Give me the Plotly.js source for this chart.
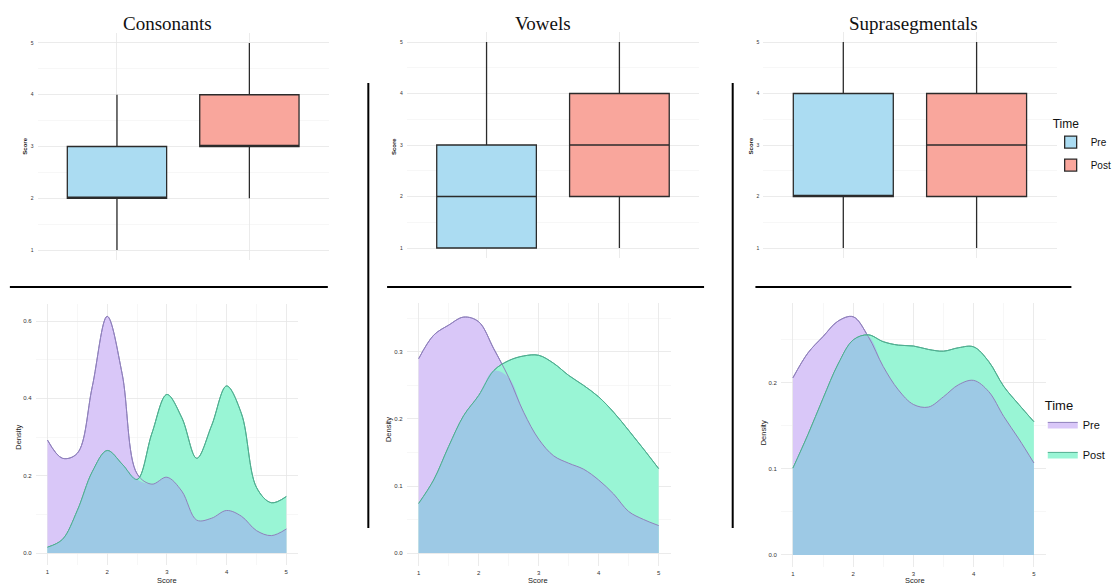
<!DOCTYPE html>
<html>
<head>
<meta charset="utf-8">
<script src="https://cdn.plot.ly/plotly-3.0.1.min.js"></script>
<style>html,body{margin:0;padding:0;background:#fff;}#chart{width:1117px;height:586px;}</style>
</head>
<body>
<div id="chart"></div>
<script>
// ---------- DATA ----------
const panelTitles = ['Consonants', 'Vowels', 'Suprasegmentals'];
const timeGroups = ['Pre', 'Post'];

// Box-plot statistics (Score) per skill: [Pre, Post]
const consLowerFence = [1, 2];
const consQ1 = [2, 3];
const consMedian = [2, 3];
const consQ3 = [3, 4];
const consUpperFence = [4, 5];

const vowLowerFence = [1, 1];
const vowQ1 = [1, 2];
const vowMedian = [2, 3];
const vowQ3 = [3, 4];
const vowUpperFence = [5, 5];

const supLowerFence = [1, 1];
const supQ1 = [2, 2];
const supMedian = [2, 3];
const supQ3 = [4, 4];
const supUpperFence = [5, 5];

// Density curves (Score grid)
const scoreGrid = [1, 1.25, 1.5, 1.75, 2, 2.25, 2.5, 2.75, 3, 3.25, 3.5, 3.75, 4, 4.25, 4.5, 4.75, 5];
const consPreDensity  = [0.292, 0.245, 0.258, 0.43, 0.612, 0.464, 0.205, 0.178, 0.196, 0.16, 0.085, 0.09, 0.11, 0.095, 0.058, 0.045, 0.062];
const consPostDensity = [0.015, 0.035, 0.11, 0.21, 0.265, 0.23, 0.19, 0.31, 0.41, 0.35, 0.245, 0.33, 0.432, 0.36, 0.17, 0.13, 0.146];
const vowPreDensity   = [0.29, 0.325, 0.34, 0.352, 0.345, 0.305, 0.262, 0.21, 0.17, 0.145, 0.134, 0.125, 0.109, 0.088, 0.062, 0.05, 0.041];
const vowPostDensity  = [0.074, 0.109, 0.159, 0.205, 0.235, 0.272, 0.287, 0.294, 0.295, 0.283, 0.265, 0.25, 0.233, 0.21, 0.183, 0.155, 0.126];
const supPreDensity   = [0.206, 0.235, 0.254, 0.272, 0.277, 0.254, 0.219, 0.192, 0.175, 0.172, 0.184, 0.198, 0.203, 0.19, 0.161, 0.135, 0.107];
const supPostDensity  = [0.101, 0.14, 0.182, 0.222, 0.25, 0.256, 0.248, 0.244, 0.243, 0.239, 0.237, 0.241, 0.242, 0.225, 0.196, 0.175, 0.155];

// ---------- STYLE ----------
const W = 1117, H = 586;
const px = v => v / W;
const py = v => 1 - v / H;

const boxFill = ['#ABDCF2', '#F9A69C'];
const preFill = '#D9C7F8', postFill = '#99F5D5', overlapFill = '#9DC9E5';
const preLine = '#8F80BC', postLine = '#4FAE90';
const gridC = '#e6e6e6', minorC = '#f2f2f2';
const sans = 'Liberation Sans, Arial, sans-serif';

const boxSets = [
  [consLowerFence, consQ1, consMedian, consQ3, consUpperFence],
  [vowLowerFence, vowQ1, vowMedian, vowQ3, vowUpperFence],
  [supLowerFence, supQ1, supMedian, supQ3, supUpperFence]
];
const densSets = [
  [consPreDensity, consPostDensity],
  [vowPreDensity, vowPostDensity],
  [supPreDensity, supPostDensity]
];

const traces = [];
boxSets.forEach((s, p) => {
  const ax = p === 0 ? '' : String(p + 1);
  timeGroups.forEach((g, i) => {
    traces.push({
      type: 'box', name: g, x: [g],
      lowerfence: [s[0][i]], q1: [s[1][i]], median: [s[2][i]], q3: [s[3][i]], upperfence: [s[4][i]],
      width: 0.75, whiskerwidth: 0, fillcolor: boxFill[i], line: {color: '#2b2b2b', width: 1.3},
      xaxis: 'x' + ax, yaxis: 'y' + ax, legend: 'legend', legendgroup: 'b' + g,
      showlegend: p === 2, hoverinfo: 'skip'
    });
  });
});

densSets.forEach((s, p) => {
  const n = p + 4;
  const xa = 'x' + n, ya = 'y' + n;
  const pre = s[0], post = s[1];
  const overlap = pre.map((v, i) => Math.min(v, post[i]));
  const base = {x: scoreGrid, type: 'scatter', mode: 'lines', xaxis: xa, yaxis: ya, hoverinfo: 'skip', legend: 'legend2'};
  traces.push(Object.assign({}, base, {y: pre, name: 'Pre', legendgroup: 'dPre', fill: 'tozeroy', fillcolor: preFill,
    line: {color: preLine, width: 1, shape: 'spline', smoothing: 1}, showlegend: p === 2}));
  traces.push(Object.assign({}, base, {y: post, name: 'Post', legendgroup: 'dPost', fill: 'tozeroy', fillcolor: postFill,
    line: {color: postLine, width: 1, shape: 'spline', smoothing: 1}, showlegend: p === 2}));
  traces.push(Object.assign({}, base, {y: overlap, name: 'overlap', fill: 'tozeroy', fillcolor: overlapFill,
    line: {color: 'rgba(0,0,0,0)', width: 0, shape: 'spline', smoothing: 1}, showlegend: false}));
  traces.push(Object.assign({}, base, {y: pre, name: 'Pre', line: {color: preLine, width: 1, shape: 'spline', smoothing: 1}, showlegend: false}));
  traces.push(Object.assign({}, base, {y: post, name: 'Post', line: {color: postLine, width: 1, shape: 'spline', smoothing: 1}, showlegend: false}));
});

function boxX(l, r, anchor) {
  return {domain: [px(l), px(r)], anchor: anchor, type: 'category', categoryorder: 'array', categoryarray: timeGroups,
    range: [-0.6, 1.6], showticklabels: false, ticks: '', showgrid: true, gridcolor: gridC, gridwidth: 0.8,
    zeroline: false, showline: false, fixedrange: true};
}
function boxY(b, t, anchor) {
  return {domain: [py(b), py(t)], anchor: anchor, range: [0.8, 5.2], dtick: 1, tick0: 1, ticks: '',
    tickfont: {family: sans, size: 5, color: '#333'}, showgrid: true, gridcolor: gridC, gridwidth: 0.8,
    minor: {dtick: 0.5, tick0: 0.5, showgrid: true, gridcolor: minorC, gridwidth: 0.6},
    zeroline: false, showline: false, ticklabelstandoff: 3};
}
function densX(l, r, anchor) {
  return {domain: [px(l), px(r)], anchor: anchor, range: [0.8, 5.2], dtick: 1, tick0: 1, ticks: '',
    tickfont: {family: sans, size: 6, color: '#333'}, showgrid: true, gridcolor: gridC, gridwidth: 0.8,
    minor: {dtick: 0.5, tick0: 0.5, showgrid: true, gridcolor: minorC, gridwidth: 0.6},
    zeroline: false, showline: false, ticklabelstandoff: 2};
}
function densY(b, t, anchor, range, dt) {
  return {domain: [py(b), py(t)], anchor: anchor, range: range, dtick: dt, tick0: 0, tickformat: '.1f', ticks: '',
    tickfont: {family: sans, size: 6, color: '#333'}, showgrid: true, gridcolor: gridC, gridwidth: 0.8,
    minor: {dtick: dt / 2, tick0: 0, showgrid: true, gridcolor: minorC, gridwidth: 0.6},
    zeroline: false, showline: false, ticklabelstandoff: 3};
}

const ann = [];
function addText(text, x, y, size, opts) {
  ann.push(Object.assign({text: text, x: px(x), y: py(y), xref: 'paper', yref: 'paper', showarrow: false,
    xanchor: 'center', yanchor: 'middle', font: {family: sans, size: size, color: '#222'}}, opts || {}));
}
const titleX = [170, 550, 925];
panelTitles.forEach((t, i) => addText(t, titleX[i], 23, 19,
  {font: {family: 'Liberation Serif, Times New Roman, serif', size: 19, color: '#111'}}));
[25, 399, 761].forEach(x => addText('<b>Score</b>', x, 146, 6, {textangle: -90}));
[[18, 437], [393, 430], [773, 433]].forEach(d => addText('Density', d[0], d[1], 7.5, {textangle: -90}));
[169, 545, 927].forEach(x => addText('Score', x, 580, 7.5));

const shp = [];
[[10, 332], [392, 713], [765, 1085]].forEach(s => shp.push({type: 'line', xref: 'paper', yref: 'paper',
  x0: px(s[0]), x1: px(s[1]), y0: py(287), y1: py(287), line: {color: '#000', width: 2}}));
[373, 742].forEach(x => shp.push({type: 'line', xref: 'paper', yref: 'paper',
  x0: px(x), x1: px(x), y0: py(83), y1: py(528), line: {color: '#000', width: 2}}));

const layout = {
  width: W, height: H, margin: {l: 0, r: 0, t: 0, b: 0}, paper_bgcolor: '#fff', plot_bgcolor: 'rgba(0,0,0,0)',
  showlegend: true,
  xaxis: boxX(38, 333, 'y'), yaxis: boxY(260.4, 32.6, 'x'),
  xaxis2: boxX(412, 708, 'y2'), yaxis2: boxY(258.3, 31.7, 'x2'),
  xaxis3: boxX(773, 1070, 'y3'), yaxis3: boxY(258.3, 31.7, 'x3'),
  xaxis4: densX(36, 302, 'y4'), yaxis4: densY(564.6, 303.6, 'x4', [-0.03, 0.645], 0.2),
  xaxis5: densX(411.85, 679.15, 'y5'), yaxis5: densY(565.5, 303, 'x5', [-0.0186, 0.373], 0.1),
  xaxis6: densX(790.8, 1059.2, 'y6'), yaxis6: densY(567, 303, 'x6', [-0.014, 0.293], 0.1),
  legend: {x: px(1064), y: py(112), xanchor: 'left', yanchor: 'top', bgcolor: 'rgba(0,0,0,0)',
    title: {text: 'Time', font: {family: sans, size: 12, color: '#111'}},
    font: {family: sans, size: 10, color: '#111'}, itemwidth: 30, tracegroupgap: 4},
  legend2: {x: px(1056), y: py(393), xanchor: 'left', yanchor: 'top', bgcolor: 'rgba(0,0,0,0)',
    title: {text: 'Time', font: {family: sans, size: 13, color: '#111'}},
    font: {family: sans, size: 11, color: '#111'}, itemwidth: 30, tracegroupgap: 11},
  annotations: ann, shapes: shp
};

Plotly.newPlot('chart', traces, layout, {displayModeBar: false, staticPlot: true});
</script>
</body>
</html>
